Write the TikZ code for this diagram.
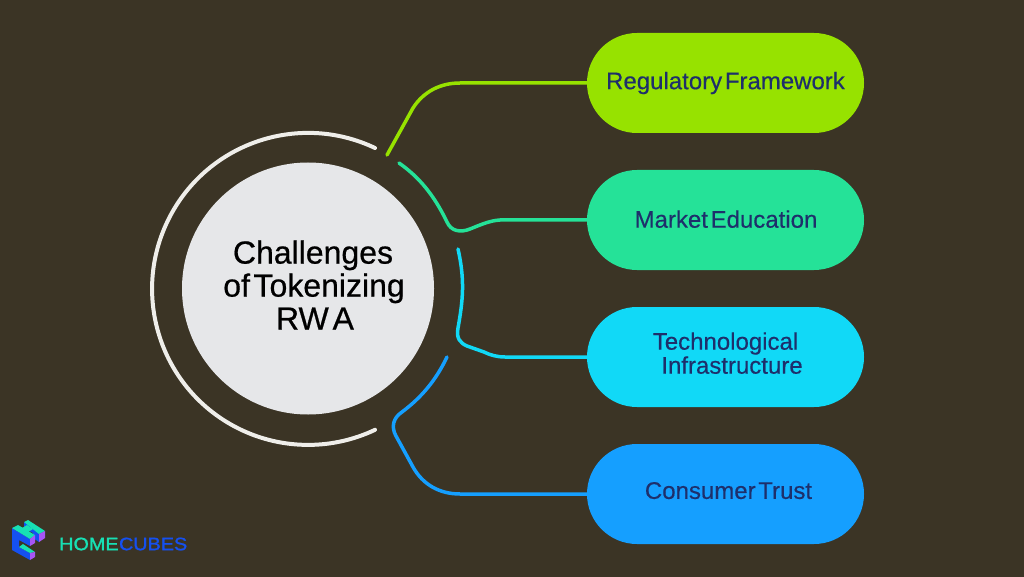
\documentclass[tikz,border=0pt]{standalone}
\usepackage{fontspec}
\setmainfont{Liberation Sans}
\newfontfamily\tightfont[WordSpace=0.4,FakeBold=0.35]{Liberation Sans}
\newfontfamily\hubfont[WordSpace=0.4,FakeBold=0.6]{Liberation Sans}
\newfontfamily\logofont[FakeStretch=1.1,FakeBold=1.4]{Liberation Sans}
\usetikzlibrary{shapes.misc}
\newcommand\liftby[1]{\rule[-#1]{0pt}{#1}}
\definecolor{bg}{HTML}{3B3425}
\definecolor{cA}{HTML}{97E200}
\definecolor{cB}{HTML}{25E298}
\definecolor{cC}{HTML}{11D9F7}
\definecolor{cD}{HTML}{159FFF}
\definecolor{navy}{HTML}{1E2F6B}
\definecolor{hub}{HTML}{E6E7E9}
\definecolor{ring}{HTML}{EFEEEA}
\definecolor{lgT}{HTML}{17E0B4}
\definecolor{lgB}{HTML}{1550F0}
\definecolor{lgP}{HTML}{A855F7}
\tikzset{
 pill/.style={rounded rectangle,minimum width=277pt,minimum height=100pt,inner sep=0pt,align=center,text=navy,font=\tightfont\fontsize{24}{24}\selectfont},
 link/.style={line width=3.5pt,line cap=round},
 hubnode/.style={circle,fill=hub,minimum size=252pt,inner sep=0pt,align=center,text=black,font=\hubfont\fontsize{32}{33}\selectfont},
 logotext/.style={font=\logofont\fontsize{18}{18}\selectfont,anchor=west,inner sep=0pt}
}
\begin{document}
\begin{tikzpicture}[x=1pt,y=-1pt]
\useasboundingbox (0,0) rectangle (1024,577);
\fill[bg] (0,0) rectangle (1024,577);
% ring
\coordinate (ringS) at (375,148);
\draw[line width=4pt,ring,line cap=round] (ringS) arc[start angle=-64.6,end angle=-295.4,radius=156];
\node[hubnode] (hub) at (308,288.5) {\hspace*{10pt}Challenges\\\hspace*{12pt}of Tokenizing\\\hspace*{14pt}RW\kern.12em A\liftby{7pt}};
% pills
\node[pill,fill=cA] (p1) at (725.5,83) {Regulatory Framework\liftby{2pt}};
\node[pill,fill=cB] (p2) at (725.5,220) {\hspace*{1pt}Market Education\liftby{2pt}};
\node[pill,fill=cC] (p3) at (725.5,357) {Technological\\\hspace*{13pt}Infrastructure\liftby{8pt}};
\node[pill,fill=cD] (p4) at (725.5,494) {\hspace*{6pt}Consumer Trust\liftby{7pt}};
% connector free ends
\coordinate (s1) at (387,155);
\coordinate (s2) at (399,163);
\coordinate (s3) at (458,249);
\coordinate (s4) at (447,357);
\draw[link,cA] (s1) -- (413,108) .. controls (424,91) and (441,83) .. (460,83) -- (p1.west);
\draw[link,cB] (s2) .. controls (419,177) and (434,195) .. (447,222) .. controls (451,231) and (460,233) .. (470,229) .. controls (480,225) and (490,220.5) .. (500,220) -- (p2.west);
\draw[link,cC] (s3) .. controls (465,280) and (463,300) .. (458,328) .. controls (456,338) and (460,343) .. (467,346) -- (484,352) .. controls (490,355) and (497,357) .. (505,357) -- (p3.west);
\draw[link,cD] (s4) .. controls (436,380) and (422,397) .. (402,412) .. controls (393,418) and (391,427) .. (396,436) -- (413,467) .. controls (423,485) and (440,494) .. (460,494) -- (p4.west);
% logo
\fill[lgB] (12,528) -- (12,550) -- (30,560) -- (30,553) -- (19,547) -- (19,540) -- (30,546) -- (30,539) -- cycle;
\fill[lgB] (24,522) -- (39,531) -- (39,542) -- (33,538) -- (33,533) -- (24,528) -- cycle;
\fill[lgT] (12,528) -- (18,525) -- (35,535) -- (30,539) -- cycle;
\fill[lgT] (24,522) -- (28,520) -- (45,531) -- (39,534) -- cycle;
\fill[lgT] (22,528) -- (27,525) -- (33,529) -- (28,532) -- cycle;
\fill[lgT] (19,547) -- (23,544) -- (35,552) -- (30,553) -- cycle;
\fill[lgP] (39,534) -- (45,531) -- (45,538) -- (39,542) -- cycle;
\fill[lgP] (30,539) -- (35,535) -- (35,543) -- (30,546) -- cycle;
\fill[lgP] (30,553) -- (35,552) -- (35,557) -- (30,560) -- cycle;
\node[logotext,text=lgT] (lgA) at (59,544) {HOME};
\node[logotext,text=lgB] (lgC) at (lgA.east) {CUBES};
\end{tikzpicture}
\end{document}
